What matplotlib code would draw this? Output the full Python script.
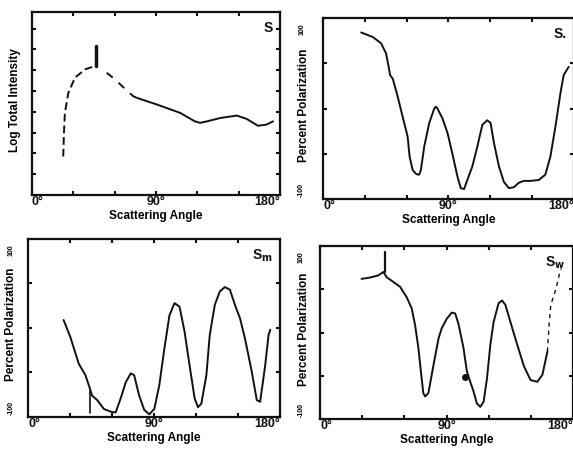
import numpy as np
import matplotlib.pyplot as plt

plt.rcParams['font.family'] = ['Liberation Sans', 'DejaVu Sans']
plt.rcParams['font.weight'] = 'bold'
plt.rcParams['lines.solid_joinstyle'] = 'round'
plt.rcParams['lines.solid_capstyle'] = 'round'

# scattering angle ticks
x_ticks = [0, 30, 60, 90, 120, 150, 180]
x_ticklabels = ['0°', '', '', '90°', '', '', '180°']
pol_ticks = [-100, -50, 0, 50, 100]

# panel 1: log total intensity (arbitrary units), dashed part then solid part
s1_dash_x = [22.7, 23.2, 23.9, 26.4, 31.2, 38.5, 45.7]
s1_dash_y = [1.85, 2.98, 3.95, 4.91, 5.64, 6.04, 6.2]
s1_dash2_x = [54.2, 60.3, 66.0, 73.5, 76.2]
s1_dash2_y = [5.88, 5.56, 5.2, 4.75, 4.67]
s1_x = [76.2, 90.7, 107.5, 118, 122, 127, 136.5, 148.6, 155.8, 164, 170, 175]
s1_y = [4.67, 4.35, 3.95, 3.55, 3.47, 3.54, 3.70, 3.82, 3.66, 3.33, 3.38, 3.54]
s1_spike_x = [46.2, 46.2]
s1_spike_y = [6.2, 7.16]

# panel 2: percent polarization
s2_x = [27.4, 35.7, 41.7, 45.2, 47.1, 48.1, 50, 53.6, 57.1, 60.7, 62.1, 64.3,
        66.6, 67.9, 69.0, 70.2, 72.6, 76.2, 79.8, 80.9, 82.1, 85.7, 89.3, 92.8,
        96.4, 98.8, 101.2, 103.5, 107.1, 110.7, 114.3, 117.8, 120.2, 122.6,
        126.2, 129.7, 133.3, 136.9, 140.5, 144, 148.8, 154.8, 159.5, 163.1,
        166.7, 170.3, 172.6, 176.2]
s2_y = [84, 79, 72, 61, 46, 37, 33, 13, -9, -31, -53, -68,
        -72, -73, -73, -68, -42, -16, 0, 2, 0, -11, -27, -50,
        -75, -88, -89, -79, -64, -42, -18, -13, -16, -38,
        -64, -81, -88, -87, -82, -80, -80, -79, -73, -53,
        -20, 17, 37, 46]

# panel 3: percent polarization
s3_x = [25.4, 30.2, 36.2, 41, 44.2, 45.8, 49.4, 54.2, 59, 62.6, 66.2, 69.8,
        73.4, 75.8, 79.4, 83, 86.6, 90.2, 93.8, 97.4, 101, 104.6, 108.2, 111.8,
        115.4, 119, 121.4, 123.8, 127.4, 129.8, 133.4, 137, 140.6, 144.2, 147.8,
        151.4, 155, 159.8, 163.4, 165.8, 169.4, 171.8, 173]
s3_y = [9, -10, -40, -53, -68, -76, -81, -91, -94, -95, -79, -61,
        -51, -53, -76, -92, -97, -91, -64, -23, 14, 28, 24, -4,
        -42, -79, -89, -85, -53, -8, 26, 41, 46, 43, 26,
        11, -12, -49, -81, -83, -42, -8, -2]
s3_spike_x = [44.6, 44.6]
s3_spike_y = [-70, -96]

# panel 4: percent polarization, solid part then faint tail
s4_x = [29.5, 35.5, 41.4, 45, 47.4, 52.1, 56.9, 61.6, 65.2, 67.6, 70, 72.3,
        73.5, 74.8, 77.1, 80.7, 84.3, 86.6, 90.2, 93.8, 96.2, 98.5, 102.1, 104.5,
        106.9, 109.2, 111.6, 114, 116.4, 118.8, 121.2, 123.5, 127.1, 129.5, 131.9,
        135.5, 140.3, 145.1, 149.8, 154.6, 158.2, 161.8]
s4_y = [62, 63.5, 66, 70, 64, 58.5, 53, 41, 28, 9, -18, -53,
        -70, -74, -70, -38, -7, 5, 16, 23, 22, 10, -18, -45,
        -57, -68, -82, -86, -80, -53, -14, 12, 34, 37, 32,
        12, -14, -39, -55, -57, -49, -22]
s4_tail_x = [161.8, 163, 164.2, 168, 170.4, 171.6]
s4_tail_y = [-22, 9, 32, 51, 68, 74]
s4_spike_x = [46.2, 46.2]
s4_spike_y = [70, 93]
s4_blob_x = [103.3]
s4_blob_y = [-51]

ink = '#111111'
lw = 1.4

fig = plt.figure(figsize=(5.73, 4.49), dpi=100)
ax1 = fig.add_axes([0.0558, 0.5657, 0.4328, 0.4076])
ax2 = fig.add_axes([0.5637, 0.5568, 0.4380, 0.4031])
ax3 = fig.add_axes([0.0489, 0.0713, 0.4398, 0.3964])
ax4 = fig.add_axes([0.5585, 0.0668, 0.4415, 0.3853])


def style(ax, label, ylab, ylab_x):
    ax.set_xlim(0, 180)
    ax.set_xticks(x_ticks)
    ax.set_xticklabels(x_ticklabels, fontsize=9, fontweight='bold')
    ax.get_xticklabels()[-1].set_horizontalalignment('right')
    ax.get_xticklabels()[0].set_horizontalalignment('left')
    ax.tick_params(direction='in', length=3, width=1.5, top=True, right=True,
                   pad=1, colors=ink)
    for s in ax.spines.values():
        s.set_linewidth(1.6)
        s.set_color(ink)
    ax.set_xlabel('Scattering Angle', fontsize=8.5, fontweight='bold', labelpad=1)
    ax.set_ylabel(ylab, fontsize=8.5, fontweight='bold')
    ax.yaxis.set_label_coords(ylab_x, 0.52)
    ax.text(0.97, 0.95, label, transform=ax.transAxes, ha='right', va='top',
            fontsize=10, fontweight='bold', color=ink)


def pol_labels(ax, xpos):
    ax.set_ylim(-100, 100)
    ax.set_yticks(pol_ticks)
    ax.set_yticklabels([])
    ax.text(xpos, 0.97, '100', transform=ax.transAxes, rotation=90,
            ha='center', va='top', fontsize=5, fontweight='bold')
    ax.text(xpos, 0.01, '-100', transform=ax.transAxes, rotation=90,
            ha='center', va='bottom', fontsize=5, fontweight='bold')


# panel 1
ax1.plot(s1_dash_x, s1_dash_y, color=ink, lw=lw, ls=(0, (4, 2)))
ax1.plot(s1_dash2_x, s1_dash2_y, color=ink, lw=lw, ls=(0, (4, 4)))
ax1.plot(s1_x, s1_y, color=ink, lw=lw)
ax1.plot(s1_spike_x, s1_spike_y, color=ink, lw=2.5)
ax1.set_ylim(0, 8.8)
ax1.set_yticks(range(1, 9))
ax1.set_yticklabels([])
style(ax1, 'S', 'Log Total Intensity', -0.045)

# panel 2
ax2.plot(s2_x, s2_y, color=ink, lw=lw)
pol_labels(ax2, -0.085)
style(ax2, 'S.', 'Percent Polarization', -0.05)

# panel 3
ax3.plot(s3_x, s3_y, color=ink, lw=lw)
ax3.plot(s3_spike_x, s3_spike_y, color=ink, lw=1.2)
pol_labels(ax3, -0.067)
style(ax3, 'S$_{\\mathbf{m}}$', 'Percent Polarization', -0.042)

# panel 4
ax4.plot(s4_x, s4_y, color=ink, lw=lw)
ax4.plot(s4_tail_x, s4_tail_y, color=ink, lw=1.0, ls=(0, (3, 3)))
ax4.plot(s4_spike_x, s4_spike_y, color=ink, lw=1.6)
ax4.plot(s4_blob_x, s4_blob_y, 'o', color=ink, ms=4)
pol_labels(ax4, -0.075)
style(ax4, 'S$_{\\mathbf{w}}$', 'Percent Polarization', -0.04)

fig.savefig('out.png', dpi=100)
